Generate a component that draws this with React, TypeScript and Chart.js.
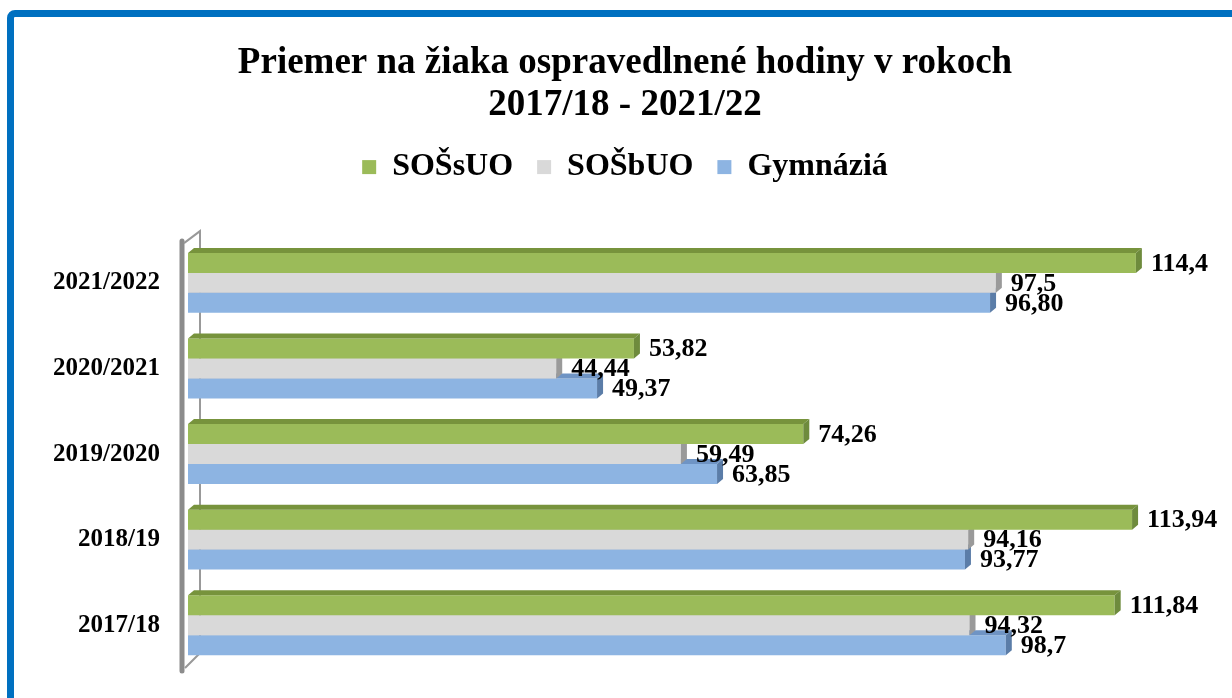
import React, { useEffect, useRef } from "react";
import { Chart, registerables } from "chart.js";

Chart.register(...registerables);

const categories = ["2021/2022", "2020/2021", "2019/2020", "2018/19", "2017/18"];
const seriesNames = ["SOŠsUO", "SOŠbUO", "Gymnáziá"];
const sossuoValues = [114.4, 53.82, 74.26, 113.94, 111.84];
const sosbuoValues = [97.5, 44.44, 59.49, 94.16, 94.32];
const gymValues = [96.8, 49.37, 63.85, 93.77, 98.7];
const sossuoLabels = ["114,4", "53,82", "74,26", "113,94", "111,84"];
const sosbuoLabels = ["97,5", "44,44", "59,49", "94,16", "94,32"];
const gymLabels = ["96,80", "49,37", "63,85", "93,77", "98,7"];
const titleLines = ["Priemer na žiaka ospravedlnené hodiny v rokoch", "2017/18 - 2021/22"];
const axisMin = 0;
const axisMax = 126;

const FONT = '"Times New Roman", "Liberation Serif", serif';
const frontColors = ["#9BBB59", "#D9D9D9", "#8DB4E2"];
const topColors = ["#77933C", "#BFBFBF", "#6F94C4"];
const sideColors = ["#6E8B3D", "#9A9A9A", "#5B7DA8"];
const valueLabels = [sossuoLabels, sosbuoLabels, gymLabels];
const DX = 6;
const DY = 5;
const LEGEND_EXTRA = 47;

const legendSpacer = {
  id: "legendSpacer",
  beforeLayout(chart: any) {
    const legend = chart.legend;
    if (!legend || legend.__spaced) return;
    legend.__spaced = true;
    const origFit = legend.fit;
    legend.fit = function () {
      origFit.call(this);
      this.height += LEGEND_EXTRA;
    };
  },
};

const wallPlugin = {
  id: "wall3d",
  beforeDatasetsDraw(chart: any) {
    const { ctx, chartArea } = chart;
    const { left, top, bottom } = chartArea;
    ctx.save();
    ctx.strokeStyle = "#8C8C8C";
    ctx.lineCap = "round";
    ctx.lineWidth = 5;
    ctx.beginPath();
    ctx.moveTo(left - 6, top + 1);
    ctx.lineTo(left - 6, bottom + 3);
    ctx.stroke();
    ctx.lineWidth = 2;
    ctx.lineCap = "butt";
    ctx.strokeStyle = "#999999";
    ctx.beginPath();
    ctx.moveTo(left - 4, top + 3);
    ctx.lineTo(left + 12, top - 9);
    ctx.lineTo(left + 12, bottom - 15);
    ctx.lineTo(left - 3, bottom);
    ctx.stroke();
    ctx.restore();
  },
};

const bar3dPlugin = {
  id: "bar3d",
  afterDatasetDraw(chart: any, args: any) {
    const { ctx } = chart;
    const i = args.index;
    ctx.save();
    args.meta.data.forEach((el: any) => {
      const p = el.getProps(["x", "y", "base", "height"], true);
      const t = p.y - p.height / 2;
      const b = p.y + p.height / 2;
      const x0 = p.base;
      const x1 = p.x;
      ctx.fillStyle = topColors[i];
      ctx.beginPath();
      ctx.moveTo(x0, t);
      ctx.lineTo(x0 + DX, t - DY);
      ctx.lineTo(x1 + DX, t - DY);
      ctx.lineTo(x1, t);
      ctx.closePath();
      ctx.fill();
      ctx.fillStyle = sideColors[i];
      ctx.beginPath();
      ctx.moveTo(x1, t);
      ctx.lineTo(x1 + DX, t - DY);
      ctx.lineTo(x1 + DX, b - DY);
      ctx.lineTo(x1, b);
      ctx.closePath();
      ctx.fill();
    });
    ctx.restore();
  },
  afterDatasetsDraw(chart: any) {
    const { ctx } = chart;
    ctx.save();
    ctx.fillStyle = "#000";
    ctx.font = `bold 26px ${FONT}`;
    ctx.textAlign = "left";
    ctx.textBaseline = "middle";
    for (let i = chart.data.datasets.length - 1; i >= 0; i--) {
      const meta = chart.getDatasetMeta(i);
      meta.data.forEach((el: any, j: number) => {
        const p = el.getProps(["x", "y"], true);
        ctx.fillText(valueLabels[i][j], p.x + 15, p.y + 1);
      });
    }
    ctx.restore();
  },
};

export default function App() {
  const ref = useRef<HTMLCanvasElement>(null);
  useEffect(() => {
    const canvas = ref.current!;
    const chart = new Chart(canvas, {
      type: "bar",
      data: {
        labels: categories,
        datasets: [
          { label: seriesNames[0], data: sossuoValues, backgroundColor: frontColors[0] },
          { label: seriesNames[1], data: sosbuoValues, backgroundColor: frontColors[1] },
          { label: seriesNames[2], data: gymValues, backgroundColor: frontColors[2] },
        ],
      },
      options: {
        indexAxis: "y",
        responsive: false,
        animation: false,
        devicePixelRatio: 1,
        datasets: {
          bar: { barPercentage: 1, categoryPercentage: 0.7, borderWidth: 0 },
        },
        layout: { padding: { left: 18, right: 0, top: 0, bottom: 30 } },
        plugins: {
          tooltip: { enabled: false },
          title: {
            display: true,
            text: titleLines,
            color: "#000",
            font: { family: FONT, size: 37, weight: "bold", lineHeight: 1.15 },
            padding: { top: 42, bottom: 0 },
          },
          legend: {
            display: true,
            position: "top",
            labels: {
              color: "#000",
              boxWidth: 14,
              boxHeight: 14,
              padding: 24,
              font: { family: FONT, size: 32, weight: "bold" },
            },
          },
        },
        scales: {
          x: {
            display: false,
            min: axisMin,
            max: axisMax,
          },
          y: {
            grid: { display: false, drawTicks: false },
            border: { display: false },
            ticks: {
              color: "#000",
              padding: 28,
              font: { family: FONT, size: 25, weight: "bold" },
            },
            afterFit: (s: any) => {
              s.width = 170;
              s.paddingTop = 0;
              s.paddingBottom = 0;
            },
          },
        },
      },
      plugins: [legendSpacer, wallPlugin, bar3dPlugin],
    });
    return () => chart.destroy();
  }, []);
  return (
    <div
      style={{
        position: "fixed",
        left: 0,
        top: 0,
        width: 1232,
        height: 698,
        overflow: "hidden",
        background: "#fff",
      }}
    >
      <div
        style={{
          position: "absolute",
          left: 7,
          top: 10,
          width: 1250,
          height: 720,
          border: "7px solid #0070C0",
          borderRadius: 8,
          boxSizing: "border-box",
        }}
      />
      <canvas
        ref={ref}
        width={1232}
        height={698}
        style={{ position: "absolute", left: 0, top: 0 }}
      />
    </div>
  );
}
